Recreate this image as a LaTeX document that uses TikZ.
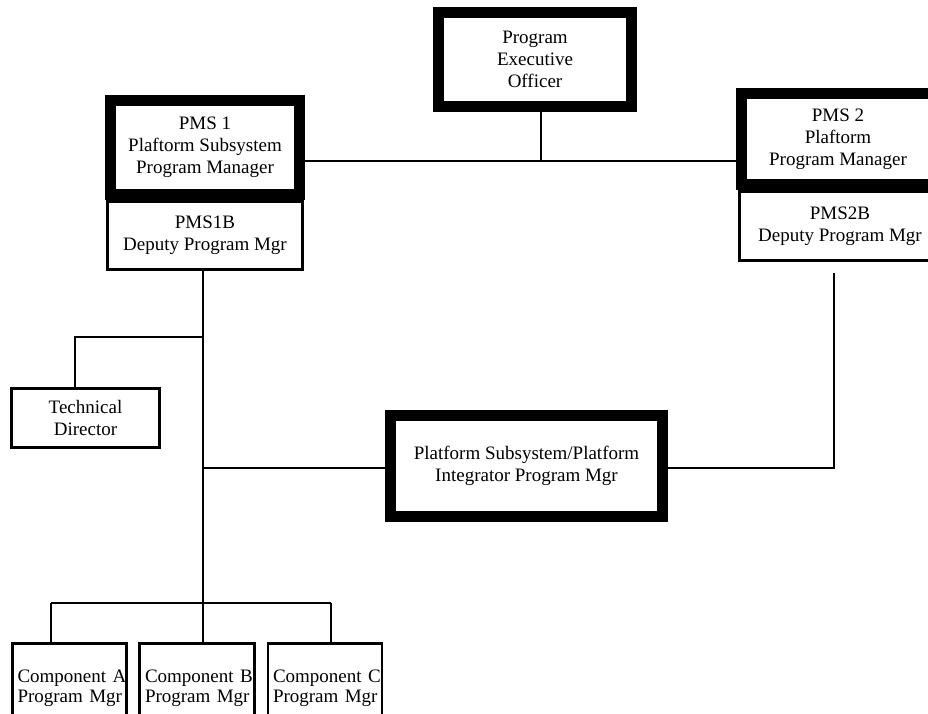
\documentclass[tikz,border=0pt]{standalone}
\usepackage{fontspec}
\setmainfont{Liberation Serif}
\begin{document}
\begin{tikzpicture}[x=1pt,y=-1pt,
  every node/.style={font=\fontsize{19}{22}\selectfont},
  thickbox/.style={draw, line width=11pt, fill=white, align=center, inner sep=0pt},
  thinbox/.style={draw, line width=2.6pt, fill=white, align=center, inner sep=0pt},
  compbox/.style={thinbox, minimum height=89.4pt, text width=104pt, inner xsep=5pt,
    font=\fontsize{19}{20}\selectfont},
  conn/.style={line width=2.6pt}]
\useasboundingbox (0,0) rectangle (928,713);
% top level
\node[thickbox, minimum width=193pt, minimum height=94pt] (peo) at (535,59.5)
  {Program\\Executive\\Officer};
\node[thinbox, minimum width=195.4pt, minimum height=68.4pt] (pms1b) at (205,235.5)
  {PMS1B\\Deputy Program Mgr};
\node[thickbox, minimum width=189pt, minimum height=94pt] (pms1) at (205,147.5)
  {PMS 1\\Plaftorm Subsystem\\Program Manager};
\node[thinbox, minimum width=201.4pt, minimum height=69.4pt] (pms2b) at (840,226)
  {PMS2B\\ Deputy Program Mgr};
\node[thickbox, minimum width=193pt, minimum height=91pt] (pms2) at (838,139)
  {PMS 2\\Plaftorm\\Program Manager};
% middle
\node[thinbox, minimum width=148.4pt, minimum height=59.4pt] (td) at (85.5,418)
  {Technical\\Director};
\node[thickbox, minimum width=272pt, minimum height=101pt] (ipm) at (526.5,466)
  {Platform Subsystem/Platform\\Integrator Program Mgr};
% components
\node[compbox, minimum width=114.4pt] (ca) at (69.5,688) {\mbox{Component A}\\\mbox{Program Mgr}};
\node[compbox, minimum width=115.4pt] (cb) at (197,688) {\mbox{Component B}\\\mbox{Program Mgr}};
\node[compbox, minimum width=113.4pt] (cc) at (325,688) {\mbox{Component C}\\\mbox{Program Mgr}};
% junction coordinates
\coordinate (h1) at (541,161);
\coordinate (tdj) at (203,337);
\coordinate (tdx) at (75,337);
\coordinate (ij) at (203,468);
\coordinate (r2) at (834,273);
\coordinate (bar) at (203,603);
\coordinate (barl) at (51,603);
\coordinate (barr) at (331,603);
% connectors
\draw[conn] (h1 |- peo.south) -- (h1);
\draw[conn] (pms1.east |- h1) -- (pms2.west |- h1);
\draw[conn] (bar |- pms1b.south) -- (bar);
\draw[conn] (tdj) -- (tdx) -- (tdx |- td.north);
\draw[conn] (ij) -- (ij -| ipm.west);
\draw[conn] (ipm.east |- ij) -| (r2);
\draw[conn] (barl) -- (barr);
\draw[conn] (barl) -- (barl |- ca.north);
\draw[conn] (bar) -- (bar |- cb.north);
\draw[conn] (barr) -- (barr |- cc.north);
\end{tikzpicture}
\end{document}
